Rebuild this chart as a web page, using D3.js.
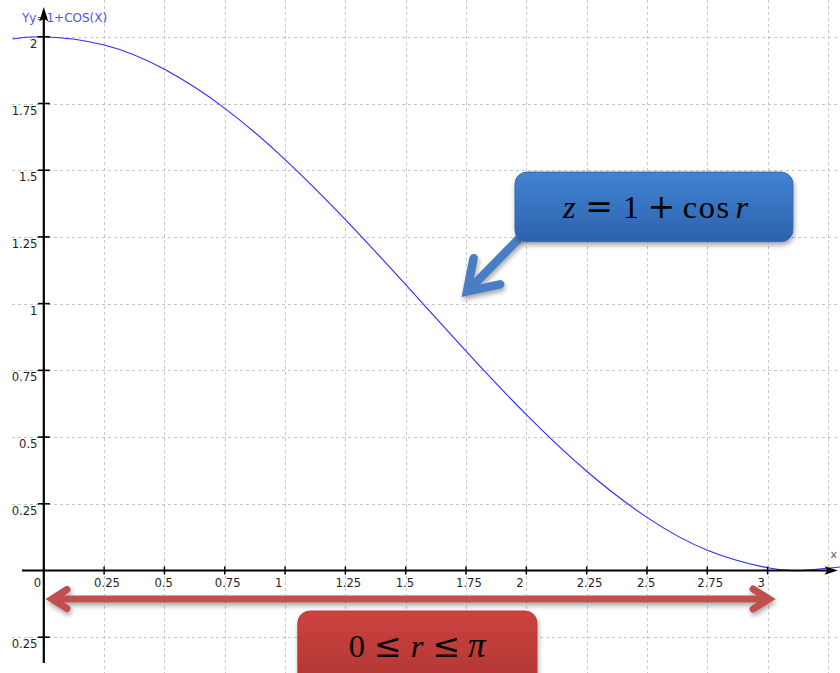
<!DOCTYPE html>
<html>
<head>
<meta charset="utf-8">
<script src="https://cdn.jsdelivr.net/npm/d3@7"></script>
<style>
  html, body { margin: 0; padding: 0; background: #fff; }
  svg { display: block; }
</style>
</head>
<body>
<svg id="chart" width="840" height="673"></svg>
<script>
// Sampled points of the plotted curve y = 1 + cos(x)
const curveX = [-0.13, 0, 0.25, 0.5, 0.75, 1, 1.25, 1.5, 1.75, 2, 2.25, 2.5, 2.75, 3, 3.14, 3.3];
const curveY = [1.992, 2, 1.969, 1.878, 1.732, 1.540, 1.315, 1.071, 0.822, 0.584, 0.372, 0.199, 0.076, 0.010, 0.000, 0.013];

// Axis ticks and their printed labels
const xTicks = [0, 0.25, 0.5, 0.75, 1, 1.25, 1.5, 1.75, 2, 2.25, 2.5, 2.75, 3];
const xTickLabels = ["0", "0.25", "0.5", "0.75", "1", "1.25", "1.5", "1.75", "2", "2.25", "2.5", "2.75", "3"];
const xGrid = [0.25, 0.5, 0.75, 1, 1.25, 1.5, 1.75, 2, 2.25, 2.5, 2.75, 3, 3.25];
const yTicks = [-0.25, 0.25, 0.5, 0.75, 1, 1.25, 1.5, 1.75, 2];
const yTickLabels = ["0.25", "0.25", "0.5", "0.75", "1", "1.25", "1.5", "1.75", "2"];

// Annotation anchors, in data units
const blueBox = { x0: 1.953, x1: 3.105, yTop: 1.493, yBottom: 1.232 };
const blueArrow = { from: [1.972, 1.246], to: [1.754, 1.0455] };
const rangeArrow = { x0: 0.034, x1: 3.006, y: -0.107 };
const redBox = { x0: 1.053, x1: 2.044, yTop: -0.152 };

const svg = d3.select("#chart");
const W = 840, H = 673;

const x = d3.scaleLinear().domain([0, 3]).range([43.8, 767.6]);
const y = d3.scaleLinear().domain([0, 2]).range([570.5, 36.8]);

const defs = svg.append("defs");
const shadow = defs.append("filter").attr("id", "shadow")
  .attr("x", "-20%").attr("y", "-30%").attr("width", "140%").attr("height", "170%");
shadow.append("feDropShadow").attr("dx", 1).attr("dy", 3).attr("stdDeviation", 2.5)
  .attr("flood-color", "#000").attr("flood-opacity", 0.35);

const gBlue = defs.append("linearGradient").attr("id", "gBlue").attr("x1", 0).attr("y1", 0).attr("x2", 0).attr("y2", 1);
gBlue.append("stop").attr("offset", "0%").attr("stop-color", "#4283d2");
gBlue.append("stop").attr("offset", "100%").attr("stop-color", "#2d62ad");
const gRed = defs.append("linearGradient").attr("id", "gRed").attr("x1", 0).attr("y1", 0).attr("x2", 0).attr("y2", 1);
gRed.append("stop").attr("offset", "0%").attr("stop-color", "#cd423f");
gRed.append("stop").attr("offset", "100%").attr("stop-color", "#a93431");

// Grid
const grid = svg.append("g").attr("stroke", "#c6c6c6").attr("stroke-width", 1)
  .attr("stroke-dasharray", "3,3").attr("shape-rendering", "crispEdges");
grid.selectAll("line.v").data(xGrid).join("line").attr("class", "v")
  .attr("x1", d => Math.round(x(d)) + 0.5).attr("x2", d => Math.round(x(d)) + 0.5)
  .attr("y1", 0).attr("y2", H);
grid.selectAll("line.h").data(yTicks).join("line").attr("class", "h")
  .attr("x1", 12).attr("x2", W)
  .attr("y1", d => Math.round(y(d)) + 0.5).attr("y2", d => Math.round(y(d)) + 0.5);

// Function label
svg.append("text").attr("x", 22).attr("y", 22)
  .attr("font-family", "DejaVu Sans, Verdana, sans-serif").attr("font-size", 12)
  .attr("fill", "#5050ee").text("Yy=1+COS(X)");

// Curve
const line = d3.line().x((d, i) => x(curveX[i])).y(d => y(d)).curve(d3.curveNatural);
svg.append("path").datum(curveY).attr("d", line)
  .attr("fill", "none").attr("stroke", "#2b2bff").attr("stroke-width", 1.1);

// Axes
const axes = svg.append("g").attr("stroke", "#000");
const x0 = x(0), yZero = y(0);
axes.append("line").attr("x1", 22).attr("x2", 830).attr("y1", yZero).attr("y2", yZero).attr("stroke-width", 2);
axes.append("line").attr("x1", x0).attr("x2", x0).attr("y1", 18).attr("y2", 663).attr("stroke-width", 2.2);
axes.append("path").attr("fill", "#000").attr("stroke", "none")
  .attr("d", `M${x0},7 L${x0 + 4.5},21.5 L${x0},18.5 L${x0 - 4.5},21.5 Z`);
axes.append("path").attr("fill", "#000").attr("stroke", "none")
  .attr("d", `M838,${yZero} L824.5,${yZero - 4.2} L827.5,${yZero} L824.5,${yZero + 4.2} Z`);

axes.selectAll("line.xt").data(xTicks.filter(d => d !== 0)).join("line").attr("class", "xt")
  .attr("x1", d => x(d)).attr("x2", d => x(d))
  .attr("y1", yZero - 4).attr("y2", yZero + 4).attr("stroke-width", 1.5);
axes.selectAll("line.yt").data(yTicks).join("line").attr("class", "yt")
  .attr("x1", x0 - 6).attr("x2", x0 + 6)
  .attr("y1", d => y(d)).attr("y2", d => y(d)).attr("stroke-width", 1.6);

const labelFont = "DejaVu Sans, Verdana, sans-serif";
svg.append("g").selectAll("text").data(xTicks).join("text")
  .attr("x", d => x(d) - 10).attr("y", yZero + 16.5)
  .attr("font-family", labelFont).attr("font-size", 11.6).attr("fill", "#1e1e1e")
  .text((d, i) => xTickLabels[i]);
svg.append("g").selectAll("text").data(yTicks).join("text")
  .attr("x", 37.5).attr("y", d => y(d) + 11).attr("text-anchor", "end")
  .attr("font-family", labelFont).attr("font-size", 11.6).attr("fill", "#1e1e1e")
  .text((d, i) => yTickLabels[i]);
svg.append("text").attr("x", 830.5).attr("y", 558)
  .attr("font-family", labelFont).attr("font-size", 11).attr("fill", "#6b5a45").text("x");

// Blue callout: formula box with pointer onto the curve
const bx0 = x(blueBox.x0), bx1 = x(blueBox.x1), by0 = y(blueBox.yTop), by1 = y(blueBox.yBottom);
const [ax0, ay0] = [x(blueArrow.from[0]), y(blueArrow.from[1])];
const [ax1, ay1] = [x(blueArrow.to[0]), y(blueArrow.to[1])];
const ang = Math.atan2(ay0 - ay1, ax0 - ax1);
const armLen = 34, spread = 0.58;
const arrowG = svg.append("g").attr("filter", "url(#shadow)");
arrowG.append("path")
  .attr("d", `M${ax0},${ay0} L${ax1},${ay1}
              M${ax1 + armLen * Math.cos(ang - spread)},${ay1 + armLen * Math.sin(ang - spread)}
              L${ax1},${ay1}
              L${ax1 + armLen * Math.cos(ang + spread)},${ay1 + armLen * Math.sin(ang + spread)}`)
  .attr("fill", "none").attr("stroke", "#4a7ec2").attr("stroke-width", 8.5)
  .attr("stroke-linejoin", "miter").attr("stroke-linecap", "round");

svg.append("rect").attr("x", bx0).attr("y", by0).attr("width", bx1 - bx0).attr("height", by1 - by0)
  .attr("rx", 12).attr("fill", "url(#gBlue)").attr("stroke", "#3568aa").attr("stroke-width", 1)
  .attr("filter", "url(#shadow)");

// Math text: letters and digits in a serif face, relations and operators wider
const mathFont = "Liberation Serif, Cambria, Times New Roman, serif";
const opFont = "DejaVu Serif, serif";
function mathText(xPos, yPos, parts) {
  const t = svg.append("text").attr("x", xPos).attr("y", yPos)
    .attr("font-family", mathFont).attr("font-size", 32.5).attr("fill", "#000");
  parts.forEach(p => {
    const s = t.append("tspan").attr("dx", p.dx).text(p.t);
    if (p.it) s.attr("font-style", "italic");
    if (p.op) s.attr("font-family", opFont).attr("font-size", 33);
    if (p.ls) s.attr("letter-spacing", p.ls);
    if (p.fs) s.attr("font-size", p.fs);
  });
  return t;
}
mathText(bx0 + 48, by0 + 45.5, [
  { t: "z", it: true, dx: 0 },
  { t: "=", op: true, dx: 9.5 },
  { t: "1", dx: 10 },
  { t: "+", op: true, dx: 8.5 },
  { t: "cos", dx: 7.5, ls: 1.5 },
  { t: "r", it: true, dx: 5 }
]);

// Red double-headed range arrow
const rx0 = x(rangeArrow.x0), rx1 = x(rangeArrow.x1), ry = y(rangeArrow.y);
svg.append("path")
  .attr("d", `M${rx0 + 2},${ry} L${rx1 - 2},${ry}
              M${rx0 + 15},${ry - 9.5} L${rx0},${ry} L${rx0 + 15},${ry + 9.5}
              M${rx1 - 16},${ry - 10} L${rx1},${ry} L${rx1 - 16},${ry + 10}`)
  .attr("fill", "none").attr("stroke", "#c0504d").attr("stroke-width", 7)
  .attr("stroke-linecap", "round").attr("stroke-linejoin", "miter")
  .attr("filter", "url(#shadow)");

// Red range box
const qx0 = x(redBox.x0), qx1 = x(redBox.x1), qy0 = y(redBox.yTop);
svg.append("rect").attr("x", qx0).attr("y", qy0).attr("width", qx1 - qx0).attr("height", 90)
  .attr("rx", 12).attr("fill", "url(#gRed)").attr("stroke", "#b13a37").attr("stroke-width", 1)
  .attr("filter", "url(#shadow)");
mathText(qx0 + 51, qy0 + 46, [
  { t: "0", dx: 0 },
  { t: "≤", op: true, dx: 9 },
  { t: "r", it: true, dx: 9 },
  { t: "≤", op: true, dx: 9 },
  { t: "π", it: true, dx: 8, fs: 35 }
]);
</script>
</body>
</html>
